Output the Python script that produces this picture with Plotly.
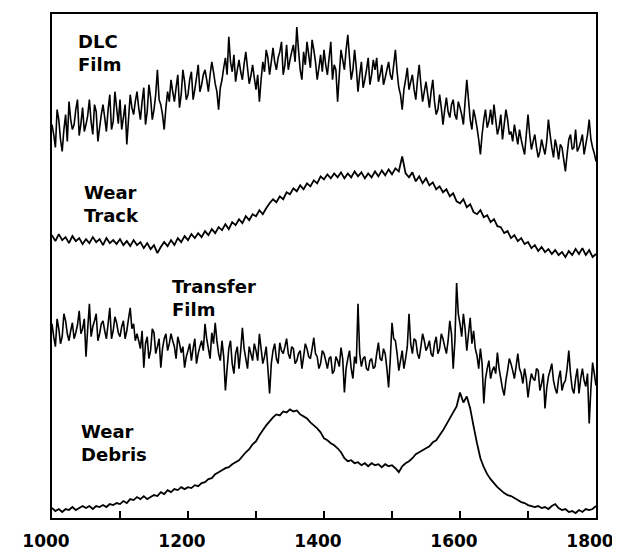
import plotly.graph_objects as go

# Raman shift grids (cm^-1)
wavenumber_fine = [1000 + 2.5 * i for i in range(321)]
wavenumber = list(range(1000, 1805, 5))

# Intensities (arbitrary units, stacked spectra)
dlc_film = [
    395, 385, 372, 410, 400, 380, 368, 390, 405, 378,
    418, 400, 390, 395, 410, 420, 384, 396, 412, 388,
    395, 404, 420, 398, 385, 415, 408, 378, 392, 405,
    415, 402, 388, 410, 425, 390, 398, 428, 412, 396,
    420, 390, 402, 415, 375, 400, 425, 412, 405, 418,
    428, 412, 400, 418, 432, 395, 408, 435, 422, 400,
    410, 425, 450, 420, 415, 405, 390, 412, 428, 418,
    440, 428, 418, 432, 445, 412, 425, 450, 438, 420,
    425, 440, 448, 420, 430, 442, 455, 428, 435, 445,
    450, 440, 428, 445, 458, 448, 436, 428, 410, 432,
    440, 452, 462, 445, 483, 458, 448, 465, 438, 450,
    460, 448, 440, 456, 468, 452, 436, 444, 455, 442,
    430, 445, 418, 440, 458, 448, 470, 462, 445, 458,
    472, 458, 450, 462, 468, 478, 445, 455, 475, 450,
    460, 468, 475, 458, 493, 470, 450, 440, 468, 455,
    478, 465, 452, 480, 470, 458, 440, 452, 465, 448,
    470, 455, 445, 462, 478, 440, 455, 450, 418, 445,
    470, 460, 450, 470, 485, 462, 440, 450, 470, 452,
    428, 445, 458, 432, 440, 450, 462, 435, 445, 460,
    450, 462, 438, 445, 455, 435, 442, 450, 458, 445,
    440, 455, 470, 448, 432, 425, 410, 430, 440, 452,
    430, 438, 445, 430, 420, 440, 455, 435, 418, 428,
    438, 425, 412, 428, 440, 418, 405, 410, 425, 412,
    395, 410, 422, 408, 402, 415, 420, 405, 400, 418,
    412, 405, 395, 418, 440, 420, 400, 390, 410, 402,
    392, 380, 365, 385, 400, 410, 392, 398, 410, 395,
    415, 400, 385, 392, 405, 380, 395, 410, 400, 385,
    388, 378, 395, 385, 375, 390, 380, 372, 365, 385,
    405, 385, 370, 378, 385, 372, 362, 368, 380, 372,
    365, 378, 400, 385, 372, 362, 380, 372, 360, 375,
    372, 360, 348, 365, 380, 385, 370, 372, 390, 368,
    372, 378, 385, 365, 375, 385, 400, 380, 372, 366,
    358,
]

wear_track = [
    284, 278, 285, 279, 282,
    276, 283, 278, 281, 275,
    280, 276, 282, 277, 280,
    274, 281, 276, 279, 275,
    280, 274, 278, 273, 279,
    274, 277, 271, 276, 270,
    274, 266, 272, 277, 273,
    279, 274, 281, 277, 283,
    279, 285, 281, 286, 282,
    288, 284, 290, 286, 292,
    289, 295, 290, 297, 294,
    300, 296, 303, 299, 305,
    303, 309, 305, 311, 316,
    320, 317, 323, 320, 327,
    325, 331, 328, 334, 330,
    336, 333, 339, 336, 343,
    340, 345, 341, 346, 342,
    347, 341, 346, 342, 348,
    343, 347, 341, 346, 342,
    348, 343, 349, 344, 350,
    345, 351, 348, 363, 346,
    342, 347, 338, 343, 336,
    341, 334, 337, 330, 333,
    327, 330, 323, 326, 318,
    316, 320, 312, 315, 307,
    305, 309, 302, 304, 297,
    300, 293, 292, 286, 288,
    281, 284, 278, 281, 275,
    277, 271, 274, 268, 272,
    267, 270, 265, 269, 264,
    267, 262, 268, 264, 270,
    265, 271, 264, 269, 262,
    265,
]

transfer_film = [
    195, 182, 172, 200, 190, 175, 182, 205, 198, 185,
    178, 188, 196, 180, 186, 194, 208, 185, 190, 200,
    162, 190, 215, 182, 192, 198, 205, 178, 185, 195,
    198, 188, 180, 195, 211, 180, 188, 202, 196, 186,
    182, 192, 198, 180, 188, 200, 211, 190, 195, 178,
    185, 178, 170, 188, 151, 175, 182, 160, 168, 190,
    186, 165, 172, 180, 151, 170, 180, 185, 168, 175,
    185, 178, 172, 160, 182, 175, 166, 172, 151, 162,
    168, 175, 158, 170, 180, 155, 165, 172, 178, 168,
    195, 180, 170, 160, 186, 175, 196, 178, 165, 158,
    178, 162, 128, 150, 170, 178, 155, 145, 165, 172,
    150, 168, 191, 170, 160, 150, 172, 165, 158, 175,
    168, 158, 185, 170, 155, 162, 172, 150, 125, 155,
    168, 175, 160, 155, 176, 168, 165, 172, 180, 165,
    160, 172, 170, 155, 158, 165, 168, 150, 162, 175,
    170, 162, 160, 170, 181, 165, 162, 150, 155, 168,
    165, 158, 150, 160, 162, 145, 148, 162, 158, 152,
    171, 160, 126, 150, 160, 168, 150, 140, 162, 155,
    215, 165, 152, 160, 162, 150, 148, 158, 160, 150,
    152, 165, 176, 160, 158, 170, 165, 150, 131, 160,
    196, 180, 178, 165, 148, 158, 168, 150, 160, 172,
    205, 175, 165, 180, 178, 165, 160, 172, 185, 178,
    168, 172, 178, 165, 162, 175, 182, 165, 170, 185,
    180, 172, 165, 178, 198, 185, 150, 178, 236, 205,
    195, 182, 205, 190, 168, 185, 201, 175, 188, 170,
    163, 150, 170, 155, 115, 140, 150, 158, 140, 148,
    152, 145, 166, 150, 140, 130, 123, 138, 148, 160,
    155, 148, 140, 152, 165, 150, 145, 135, 150, 140,
    121, 135, 145, 140, 138, 150, 148, 128, 135, 145,
    110, 130, 142, 148, 155, 138, 130, 125, 140, 148,
    128, 135, 138, 150, 168, 145, 130, 125, 140, 150,
    125, 140, 150, 138, 132, 145, 95, 130, 156, 145,
    133,
]

wear_debris = [
    10, 7, 9, 6, 9,
    8, 11, 8, 10, 12,
    10, 12, 9, 12, 11,
    13, 11, 14, 13, 15,
    14, 17, 15, 19, 18,
    21, 19, 22, 19, 21,
    23, 22, 26, 24, 28,
    26, 29, 28, 31, 29,
    31, 30, 33, 32, 35,
    36, 39, 40, 44, 46,
    48, 50, 51, 54, 56,
    58, 62, 66, 69, 74,
    77, 83, 88, 93, 97,
    101, 104, 103, 107, 106,
    109, 107, 108, 104, 102,
    100, 96, 93, 90, 86,
    80, 78, 75, 73, 70,
    66, 60, 57, 58, 55,
    56, 53, 55, 52, 55,
    53, 54, 51, 54, 52,
    53, 50, 46, 52, 55,
    57, 60, 64, 66, 68,
    70, 72, 76, 78, 83,
    88, 94, 100, 106, 112,
    126, 116, 122, 110, 92,
    75, 60, 51, 44, 39,
    35, 31, 28, 25, 23,
    22, 20, 18, 16, 15,
    13, 12, 11, 12, 10,
    11, 9, 12, 14, 10,
    8, 9, 6, 7, 5,
    8, 6, 9, 8, 9,
    12,
]

series = [
    ("DLC Film", wavenumber_fine, dlc_film, 1.6),
    ("Wear Track", wavenumber, wear_track, 1.8),
    ("Transfer Film", wavenumber_fine, transfer_film, 1.6),
    ("Wear Debris", wavenumber, wear_debris, 1.8),
]

# curve labels and their anchor points (x in cm^-1, y in intensity units)
label_text = ["DLC<br>Film", "Wear<br>Track", "Transfer<br>Film", "Wear<br>Debris"]
label_x = [1035, 1044, 1174, 1039]
label_y = [467, 315, 221, 75]

fig = go.Figure()
for name, xs, vals, lw in series:
    fig.add_trace(go.Scatter(
        x=xs, y=vals, mode="lines", name=name,
        line=dict(color="black", width=lw, simplify=False),
        showlegend=False,
    ))

for t, lx, ly in zip(label_text, label_x, label_y):
    fig.add_annotation(
        x=lx, y=ly, xref="x", yref="y", text="<b>" + t + "</b>",
        showarrow=False, xanchor="left", yanchor="middle", align="left",
        font=dict(family="DejaVu Sans", size=18, color="black"),
    )

fig.update_layout(
    width=620, height=553,
    margin=dict(l=44, r=32, t=4, b=43),
    paper_bgcolor="white", plot_bgcolor="white",
)
fig.update_xaxes(
    range=[1000, 1800], dtick=200, tick0=1000,
    ticks="inside", ticklen=7, tickwidth=2, tickcolor="black",
    minor=dict(dtick=100, ticks="inside", ticklen=7, tickwidth=2, tickcolor="black"),
    showline=True, linewidth=2, linecolor="black", mirror=True,
    showgrid=False, zeroline=False,
    tickfont=dict(family="DejaVu Sans", size=17, color="black", weight="bold"),
    ticklabelshift=-6, ticklabelstandoff=7,
)
fig.update_yaxes(
    range=[0, 506], showticklabels=False, ticks="",
    showline=True, linewidth=2, linecolor="black", mirror=True,
    showgrid=False, zeroline=False,
)

fig.write_html("out.html")
